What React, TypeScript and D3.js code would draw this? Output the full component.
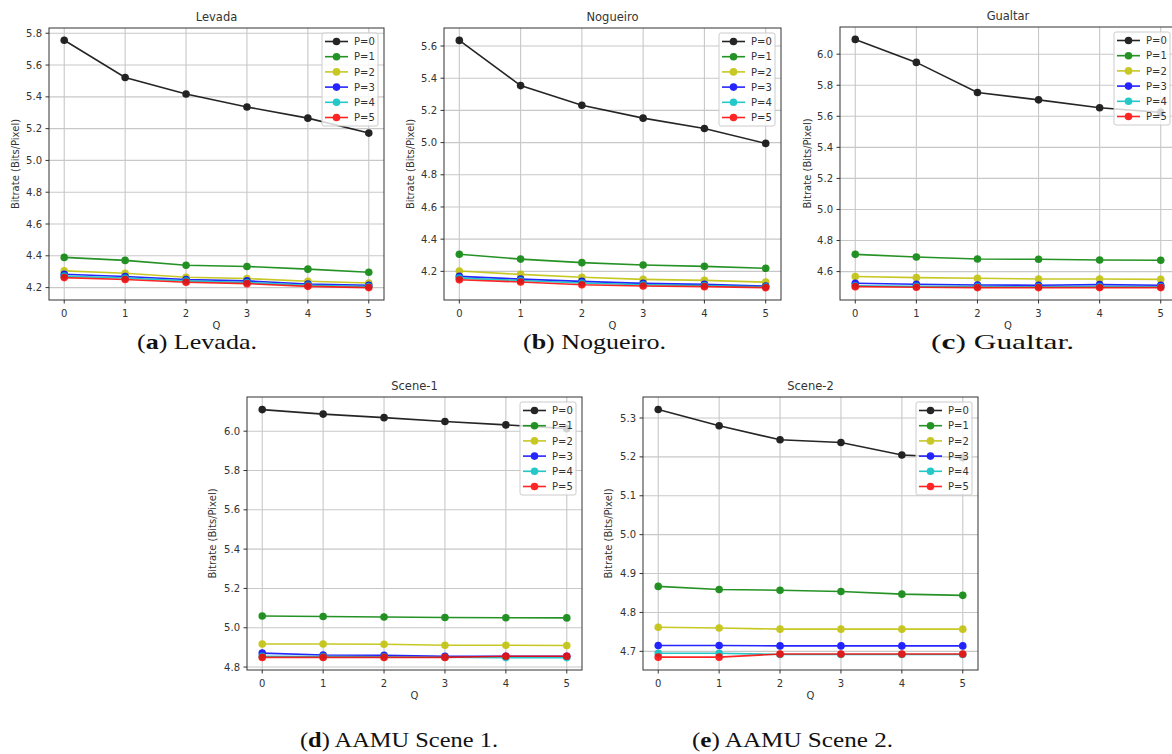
import React from "react";
import * as d3 from "d3";

const qValues = [0, 1, 2, 3, 4, 5];
const seriesLabels = ["P=0", "P=1", "P=2", "P=3", "P=4", "P=5"];
const seriesColors = ["#000000", "#008000", "#bfbf00", "#0000ff", "#00bfbf", "#ff0000"];

const levadaSeries = [
  [5.756, 5.522, 5.418, 5.336, 5.266, 5.172],
  [4.39, 4.371, 4.341, 4.333, 4.316, 4.297],
  [4.305, 4.29, 4.265, 4.257, 4.24, 4.229],
  [4.284, 4.27, 4.251, 4.242, 4.223, 4.215],
  [4.272, 4.26, 4.242, 4.232, 4.215, 4.207],
  [4.263, 4.251, 4.234, 4.225, 4.208, 4.2],
];
const nogueiroSeries = [
  [5.635, 5.354, 5.232, 5.152, 5.088, 4.995],
  [4.306, 4.276, 4.254, 4.239, 4.231, 4.219],
  [4.202, 4.181, 4.163, 4.15, 4.144, 4.133],
  [4.169, 4.152, 4.138, 4.125, 4.119, 4.109],
  [4.158, 4.143, 4.128, 4.117, 4.112, 4.104],
  [4.148, 4.134, 4.117, 4.109, 4.105, 4.099],
];
const gualtarSeries = [
  [6.095, 5.947, 5.753, 5.706, 5.655, 5.625],
  [4.711, 4.694, 4.681, 4.679, 4.675, 4.673],
  [4.568, 4.561, 4.557, 4.552, 4.552, 4.55],
  [4.525, 4.518, 4.514, 4.512, 4.516, 4.512],
  [4.508, 4.505, 4.503, 4.502, 4.503, 4.502],
  [4.503, 4.499, 4.497, 4.497, 4.497, 4.497],
];
const scene1Series = [
  [6.11, 6.087, 6.069, 6.049, 6.032, 6.013],
  [5.06, 5.057, 5.055, 5.052, 5.051, 5.05],
  [4.917, 4.917, 4.916, 4.911, 4.911, 4.91],
  [4.871, 4.861, 4.86, 4.855, 4.855, 4.855],
  [4.855, 4.853, 4.852, 4.85, 4.848, 4.848],
  [4.849, 4.849, 4.849, 4.849, 4.855, 4.855],
];
const scene2Series = [
  [5.322, 5.28, 5.244, 5.237, 5.205, 5.198],
  [4.867, 4.859, 4.857, 4.854, 4.847, 4.844],
  [4.762, 4.76, 4.757, 4.757, 4.757, 4.757],
  [4.715, 4.715, 4.714, 4.714, 4.714, 4.714],
  [4.695, 4.695, 4.692, 4.692, 4.692, 4.692],
  [4.685, 4.685, 4.693, 4.693, 4.693, 4.693],
];

const levadaTicks = [4.2, 4.4, 4.6, 4.8, 5.0, 5.2, 5.4, 5.6, 5.8];
const nogueiroTicks = [4.2, 4.4, 4.6, 4.8, 5.0, 5.2, 5.4, 5.6];
const gualtarTicks = [4.6, 4.8, 5.0, 5.2, 5.4, 5.6, 5.8, 6.0];
const scene1Ticks = [4.8, 5.0, 5.2, 5.4, 5.6, 5.8, 6.0];
const scene2Ticks = [4.7, 4.8, 4.9, 5.0, 5.1, 5.2, 5.3];

type Cfg = {
  title: string;
  series: number[][];
  ticks: number[];
  yDomain: [number, number];
  x0: number; x1: number; y0: number; y1: number;
  ylabelX: number;
  caption?: { letter: string; text: string; cx: number; y: number; w: number };
};

const panels: Cfg[] = [
  { title: "Levada", series: levadaSeries, ticks: levadaTicks, yDomain: [4.122, 5.833], x0: 49, x1: 384, y0: 28, y1: 300, ylabelX: 15 },
  { title: "Nogueiro", series: nogueiroSeries, ticks: nogueiroTicks, yDomain: [4.022, 5.712], x0: 444, x1: 781, y0: 28, y1: 300, ylabelX: 410 },
  { title: "Gualtar", series: gualtarSeries, ticks: gualtarTicks, yDomain: [4.417, 6.175], x0: 840, x1: 1176, y0: 27, y1: 300, ylabelX: 807 },
  { title: "Scene-1", series: scene1Series, ticks: scene1Ticks, yDomain: [4.785, 6.174], x0: 247, x1: 582, y0: 397, y1: 670, ylabelX: 212 },
  { title: "Scene-2", series: scene2Series, ticks: scene2Ticks, yDomain: [4.652, 5.354], x0: 643, x1: 978, y0: 397, y1: 670, ylabelX: 608 },
];

const captions = [
  { letter: "a", text: "Levada.", x0: 137, x1: 257, y: 349 },
  { letter: "b", text: "Nogueiro.", x0: 523, x1: 666, y: 349 },
  { letter: "c", text: "Gualtar.", x0: 931, x1: 1074, y: 349 },
  { letter: "d", text: "AAMU Scene 1.", x0: 300, x1: 498, y: 747 },
  { letter: "e", text: "AAMU Scene 2.", x0: 692, x1: 893, y: 747 },
];

const FONT = "'DejaVu Sans', sans-serif";
const TXT = "#333333";

function Panel({ cfg }: { cfg: Cfg }) {
  const x = d3.scaleLinear().domain([-0.25, 5.25]).range([cfg.x0, cfg.x1]);
  const y = d3.scaleLinear().domain(cfg.yDomain).range([cfg.y1, cfg.y0]);
  const line = d3
    .line<number>()
    .x((_, i) => x(qValues[i]))
    .y((d) => y(d));
  const cx = (cfg.x0 + cfg.x1) / 2;
  const cy = (cfg.y0 + cfg.y1) / 2;
  const legW = 56;
  const legH = 93;
  const lx = cfg.x1 - 6 - legW;
  const ly = cfg.y0 + 5;
  const clipId = `clip-${cfg.title}`;
  return (
    <g>
      <defs>
        <clipPath id={clipId}>
          <rect x={cfg.x0} y={cfg.y0} width={cfg.x1 - cfg.x0} height={cfg.y1 - cfg.y0} />
        </clipPath>
      </defs>
      {/* grid */}
      {qValues.map((q) => (
        <line key={"gx" + q} x1={x(q)} x2={x(q)} y1={cfg.y0} y2={cfg.y1} stroke="#c8c8c8" strokeWidth={1.1} />
      ))}
      {cfg.ticks.map((t) => (
        <line key={"gy" + t} x1={cfg.x0} x2={cfg.x1} y1={y(t)} y2={y(t)} stroke="#c8c8c8" strokeWidth={1.1} />
      ))}
      {/* series */}
      <g clipPath={`url(#${clipId})`}>
        {cfg.series.map((s, si) => (
          <g key={"s" + si} opacity={0.85}>
            <path d={line(s) || ""} fill="none" stroke={seriesColors[si]} strokeWidth={1.6} />
            {s.map((v, i) => (
              <circle key={i} cx={x(qValues[i])} cy={y(v)} r={3.8} fill={seriesColors[si]} />
            ))}
          </g>
        ))}
      </g>
      {/* frame */}
      <rect x={cfg.x0} y={cfg.y0} width={cfg.x1 - cfg.x0} height={cfg.y1 - cfg.y0} fill="none" stroke="#333" strokeWidth={1} />
      {/* x ticks */}
      {qValues.map((q) => (
        <g key={"xt" + q}>
          <line x1={x(q)} x2={x(q)} y1={cfg.y1} y2={cfg.y1 + 3.5} stroke="#333" />
          <text x={x(q)} y={cfg.y1 + 17} textAnchor="middle" fontSize={10} fontFamily={FONT} fill={TXT}>
            {d3.format("d")(q)}
          </text>
        </g>
      ))}
      {/* y ticks */}
      {cfg.ticks.map((t) => (
        <g key={"yt" + t}>
          <line x1={cfg.x0 - 3.5} x2={cfg.x0} y1={y(t)} y2={y(t)} stroke="#333" />
          <text x={cfg.x0 - 7} y={y(t) + 3.6} textAnchor="end" fontSize={10} fontFamily={FONT} fill={TXT}>
            {d3.format(".1f")(t)}
          </text>
        </g>
      ))}
      {/* labels */}
      <text x={cx} y={cfg.y0 - 7} textAnchor="middle" fontSize={11.5} fontFamily={FONT} fill={TXT}>
        {cfg.title}
      </text>
      <text x={cx} y={cfg.y1 + 29} textAnchor="middle" fontSize={10} fontFamily={FONT} fill={TXT}>
        Q
      </text>
      <text
        transform={`translate(${cfg.ylabelX + 3.5},${cy}) rotate(-90)`}
        textAnchor="middle"
        fontSize={10}
        fontFamily={FONT}
        fill={TXT}
      >
        Bitrate (Bits/Pixel)
      </text>
      {/* legend */}
      <rect x={lx} y={ly} width={legW} height={legH} rx={2} fill="#ffffff" fillOpacity={0.8} stroke="#cccccc" strokeWidth={1} />
      {seriesLabels.map((lab, i) => {
        const ey = ly + 8.5 + i * 15.2;
        return (
          <g key={"lg" + i}>
            <g opacity={0.85}>
              <line x1={lx + 3} x2={lx + 26} y1={ey} y2={ey} stroke={seriesColors[i]} strokeWidth={1.6} />
              <circle cx={lx + 14.5} cy={ey} r={3.8} fill={seriesColors[i]} />
            </g>
            <text x={lx + 32} y={ey + 3.6} fontSize={10} fontFamily={FONT} fill={TXT}>
              {lab}
            </text>
          </g>
        );
      })}
    </g>
  );
}

export default function App() {
  return (
    <div style={{ position: "absolute", left: 0, top: 0 }}>
      <svg width={1172} height={754} style={{ display: "block", background: "#fff" }}>
        <rect x={0} y={0} width={1172} height={754} fill="#fff" />
        {panels.map((p) => (
          <Panel key={p.title} cfg={p} />
        ))}
        {captions.map((c) => (
          <text
            key={c.letter}
            x={c.x0}
            y={c.y}
            fontSize={21}
            fontFamily="'Liberation Serif', 'DejaVu Serif', serif"
            fill="#111"
            textLength={c.x1 - c.x0}
            lengthAdjust="spacingAndGlyphs"
          >
            (<tspan fontWeight="bold">{c.letter}</tspan>) {c.text}
          </text>
        ))}
      </svg>
    </div>
  );
}
